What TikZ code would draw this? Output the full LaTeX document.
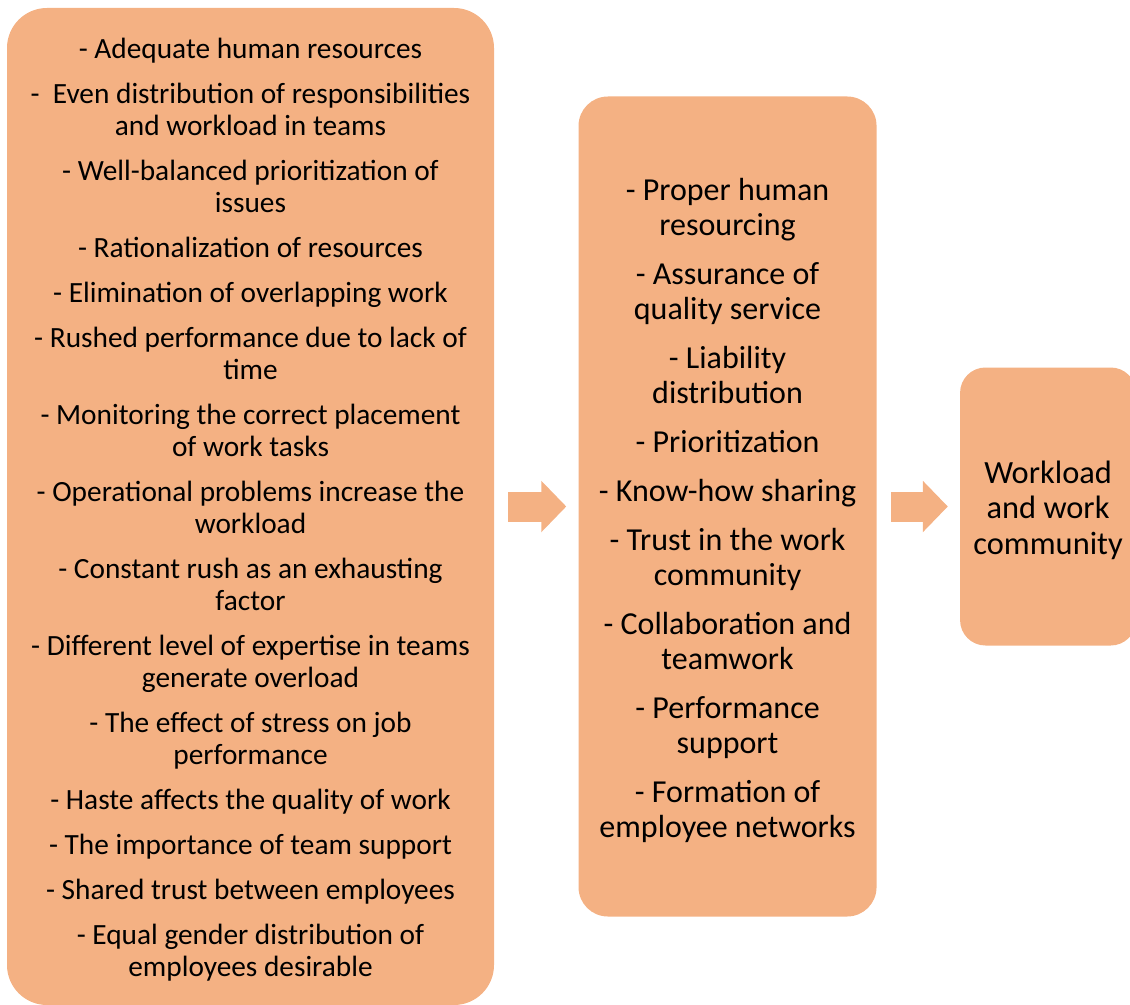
\documentclass[tikz,border=0pt]{standalone}
\usepackage{fontspec}
\setmainfont{Carlito}
\usepackage{xcolor}
\usetikzlibrary{arrows.meta}
\usetikzlibrary{positioning}
\definecolor{peach}{HTML}{F4B183}

\begin{document}
\begin{tikzpicture}[x=0.75pt,y=-0.75pt,
box/.style={fill=peach, draw=none, inner sep=0pt},
boxtext/.style={align=center, inner sep=0pt, yshift=-2.6pt},
bigarrow/.style={draw=peach, line width=22.5pt, -{Triangle[length=18.75pt,width=37.5pt,fill=peach]}, shorten <=10.5pt, shorten >=9pt}]
\useasboundingbox (0,0) rectangle (1130,1005);
\clip (0,0) rectangle (1130,1005);

\def\gapL{9.75pt}
\def\gapM{10.5pt}

% boxes
\node[box, rounded corners=30pt, minimum width=365.25pt, minimum height=747.75pt] (factors) at (250.5,506.5) {};
\node[box, rounded corners=22pt, minimum width=223.5pt, minimum height=615pt, right=63pt of factors] (themes) {};
\node[box, rounded corners=19pt, minimum width=132pt, minimum height=208.5pt, right=62.25pt of themes] (result) {};

% texts
\node[boxtext, font=\fontsize{22pt}{24pt}\selectfont] (factorsText) at (factors) {
- Adequate human resources\\[\gapL]
-\ \ Even distribution of responsibilities\\ and workload in teams\\[\gapL]
- Well-balanced prioritization of\\ issues\\[\gapL]
- Rationalization of resources\\[\gapL]
- Elimination of overlapping work\\[\gapL]
- Rushed performance due to lack of\\ time\\[\gapL]
- Monitoring the correct placement\\ of work tasks\\[\gapL]
- Operational problems increase the\\ workload\\[\gapL]
- Constant rush as an exhausting\\ factor\\[\gapL]
- Different level of expertise in teams\\ generate overload\\[\gapL]
- The effect of stress on job\\ performance\\[\gapL]
- Haste affects the quality of work\\[\gapL]
- The importance of team support\\[\gapL]
- Shared trust between employees\\[\gapL]
- Equal gender distribution of\\ employees desirable};

\node[boxtext, font=\fontsize{24pt}{26.25pt}\selectfont] (themesText) at (themes) {
- Proper human\\ resourcing\\[\gapM]
- Assurance of\\ quality service\\[\gapM]
- Liability\\ distribution\\[\gapM]
- Prioritization\\[\gapM]
- Know-how sharing\\[\gapM]
- Trust in the work\\ community\\[\gapM]
- Collaboration and\\ teamwork\\[\gapM]
- Performance\\ support\\[\gapM]
- Formation of\\ employee networks};

\node[boxtext, font=\fontsize{24.3pt}{26.6pt}\selectfont] (resultText) at (result) {
Workload\\ and work\\ community};

% arrows
\draw[bigarrow] (factors.east |- themes.west) -- (themes.west);
\draw[bigarrow] (themes.east) -- (result.west);

\end{tikzpicture}
\end{document}
